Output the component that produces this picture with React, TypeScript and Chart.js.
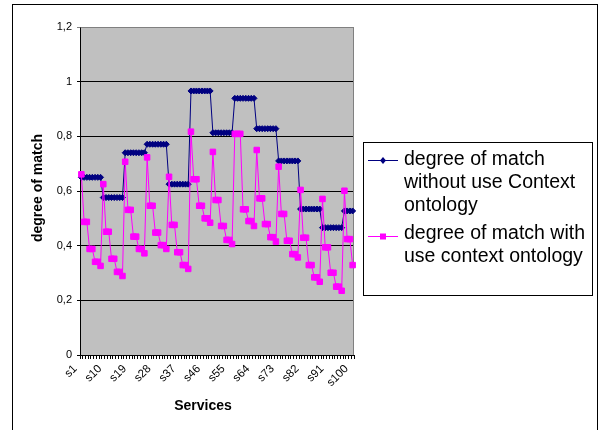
import React, { useEffect, useRef } from "react";
import { Chart, registerables } from "chart.js";

Chart.register(...registerables);

// ---------- data ----------
const categories: string[] = Array.from({ length: 100 }, (_, i) => `s${i + 1}`);

const withoutContext: number[] = [
  0.65, 0.65, 0.65, 0.65, 0.65, 0.65, 0.65, 0.65,
  0.576, 0.576, 0.576, 0.576, 0.576, 0.576, 0.576, 0.576,
  0.74, 0.74, 0.74, 0.74, 0.74, 0.74, 0.74, 0.74,
  0.771, 0.771, 0.771, 0.771, 0.771, 0.771, 0.771, 0.771,
  0.625, 0.625, 0.625, 0.625, 0.625, 0.625, 0.625, 0.625,
  0.966, 0.966, 0.966, 0.966, 0.966, 0.966, 0.966, 0.966,
  0.813, 0.813, 0.813, 0.813, 0.813, 0.813, 0.813, 0.813,
  0.939, 0.939, 0.939, 0.939, 0.939, 0.939, 0.939, 0.939,
  0.828, 0.828, 0.828, 0.828, 0.828, 0.828, 0.828, 0.828,
  0.71, 0.71, 0.71, 0.71, 0.71, 0.71, 0.71, 0.71,
  0.534, 0.534, 0.534, 0.534, 0.534, 0.534, 0.534, 0.534,
  0.466, 0.466, 0.466, 0.466, 0.466, 0.466, 0.466, 0.466,
  0.527, 0.527, 0.527, 0.527,
];

const withContext: number[] = [
  0.661, 0.487, 0.487, 0.388, 0.388, 0.341, 0.341, 0.326,
  0.625, 0.451, 0.451, 0.352, 0.352, 0.304, 0.304, 0.289,
  0.707, 0.531, 0.531, 0.433, 0.433, 0.388, 0.388, 0.372,
  0.723, 0.546, 0.546, 0.448, 0.448, 0.402, 0.402, 0.388,
  0.652, 0.476, 0.476, 0.376, 0.376, 0.329, 0.329, 0.315,
  0.817, 0.643, 0.643, 0.546, 0.546, 0.5, 0.5, 0.484,
  0.743, 0.567, 0.567, 0.472, 0.472, 0.421, 0.421, 0.406,
  0.809, 0.809, 0.809, 0.533, 0.533, 0.49, 0.49, 0.472,
  0.75, 0.573, 0.573, 0.479, 0.479, 0.431, 0.431, 0.415,
  0.689, 0.516, 0.516, 0.418, 0.418, 0.369, 0.369, 0.357,
  0.604, 0.429, 0.429, 0.329, 0.329, 0.284, 0.284, 0.268,
  0.571, 0.394, 0.394, 0.301, 0.301, 0.25, 0.25, 0.235,
  0.601, 0.424, 0.424, 0.329,
];

const legendLabels: string[][] = [
  ["degree of match", "without use Context", "ontology"],
  ["degree of match with", "use context ontology"],
];
const xAxisTitle = "Services";
const yAxisTitle = "degree of match";
const labelEvery = 9;
const yMin = 0;
const yMax = 1.2;
const yStep = 0.2;

// ---------- styles ----------
const FONT = '"Liberation Sans", Arial, sans-serif';
const BLUE = "#000080";
const PINK = "#FF00FF";
const PLOT_BG = "#C0C0C0";

const decorPlugin = {
  id: "excelDecor",
  beforeDraw(chart: any) {
    const { ctx, chartArea: a } = chart;
    ctx.save();
    ctx.fillStyle = "#ffffff";
    ctx.fillRect(0, 0, chart.width, chart.height);
    ctx.fillStyle = PLOT_BG;
    ctx.fillRect(a.left, a.top, a.right - a.left, a.bottom - a.top);
    // outer border
    ctx.strokeStyle = "#000000";
    ctx.lineWidth = 1;
    ctx.strokeRect(12.5, 4.5, 585, 460);
    ctx.restore();
  },
  beforeDatasetsDraw(chart: any) {
    const { ctx, chartArea: a } = chart;
    ctx.save();
    ctx.strokeStyle = "#808080";
    ctx.lineWidth = 1;
    ctx.beginPath();
    ctx.moveTo(Math.round(a.left) + 0.5, Math.round(a.top) + 0.5);
    ctx.lineTo(Math.round(a.right) - 0.5, Math.round(a.top) + 0.5);
    ctx.lineTo(Math.round(a.right) - 0.5, Math.round(a.bottom));
    ctx.stroke();
    ctx.restore();
  },
  afterDraw(chart: any) {
    const { ctx, chartArea: a } = chart;
    ctx.save();
    // axis titles
    ctx.fillStyle = "#000";
    ctx.font = `bold 14px ${FONT}`;
    ctx.textAlign = "center";
    ctx.textBaseline = "middle";
    ctx.fillText(xAxisTitle, 203, 406);
    ctx.save();
    ctx.translate(38, (a.top + a.bottom) / 2 - 3);
    ctx.rotate(-Math.PI / 2);
    ctx.fillText(yAxisTitle, 0, 0);
    ctx.restore();

    // legend box
    const bx = 363.5, by = 142.5, bw = 229, bh = 153;
    ctx.fillStyle = "#ffffff";
    ctx.fillRect(bx, by, bw, bh);
    ctx.strokeStyle = "#000";
    ctx.lineWidth = 1;
    ctx.strokeRect(bx, by, bw, bh);

    const lineH = 23;
    const textX = 404;
    const starts = [160, 234];
    const colors = [BLUE, PINK];
    ctx.font = `19.5px ${FONT}`;
    ctx.textAlign = "left";
    ctx.textBaseline = "middle";
    legendLabels.forEach((lines, i) => {
      const y0 = starts[i];
      const yl = i === 0 ? y0 : y0 + 2;
      ctx.strokeStyle = colors[i];
      ctx.fillStyle = colors[i];
      ctx.lineWidth = 1;
      ctx.beginPath();
      ctx.moveTo(368, yl + 0.5);
      ctx.lineTo(398, yl + 0.5);
      ctx.stroke();
      if (i === 0) {
        ctx.beginPath();
        ctx.moveTo(383, yl - 3);
        ctx.lineTo(386, yl + 0.5);
        ctx.lineTo(383, yl + 4);
        ctx.lineTo(380, yl + 0.5);
        ctx.closePath();
        ctx.fill();
      } else {
        ctx.fillRect(380, yl - 2.5, 6, 6);
      }
      ctx.fillStyle = "#000";
      lines.forEach((t, j) => ctx.fillText(t, textX, y0 + j * lineH));
    });
    ctx.restore();
  },
};

export default function App() {
  const canvasRef = useRef<HTMLCanvasElement | null>(null);

  useEffect(() => {
    if (!canvasRef.current) return;
    const chart = new Chart(canvasRef.current, {
      type: "line",
      data: {
        labels: categories,
        datasets: [
          {
            label: legendLabels[0].join(" "),
            data: withoutContext,
            borderColor: BLUE,
            backgroundColor: BLUE,
            borderWidth: 1,
            pointStyle: "rectRot",
            pointRadius: 3,
            pointBorderWidth: 1,
            pointBorderColor: BLUE,
            pointBackgroundColor: BLUE,
            tension: 0,
            order: 1,
          },
          {
            label: legendLabels[1].join(" "),
            data: withContext,
            borderColor: PINK,
            backgroundColor: PINK,
            borderWidth: 1,
            pointStyle: "rect",
            pointRadius: 3.9,
            pointBorderWidth: 1,
            pointBorderColor: PINK,
            pointBackgroundColor: PINK,
            tension: 0,
            order: 0,
          },
        ],
      },
      options: {
        animation: false,
        responsive: false,
        devicePixelRatio: 1,
        layout: { padding: { left: 0, top: 27, right: 246, bottom: 0 } },
        plugins: {
          legend: { display: false },
          tooltip: { enabled: false },
          title: { display: false },
        },
        scales: {
          x: {
            type: "category",
            offset: true,
            grid: {
              display: true,
              offset: true,
              drawOnChartArea: false,
              drawTicks: true,
              tickLength: 4,
              color: "#000",
              lineWidth: 1,
            },
            border: { display: true, color: "#000", width: 1 },
            ticks: {
              autoSkip: false,
              maxRotation: 45,
              minRotation: 45,
              padding: 3,
              labelOffset: -6,
              color: "#000",
              font: { family: FONT, size: 11.5 },
              callback: (_v: any, i: number) => (i % labelEvery === 0 ? categories[i] : ""),
            },
            afterFit: (s: any) => {
              s.height = 75;
            },
          },
          y: {
            min: yMin,
            max: yMax,
            grid: {
              color: (c: any) =>
                c.tick && Math.abs(c.tick.value - yMax) < 1e-6 ? "#808080" : "#000",
              tickLength: 3,
              lineWidth: 1,
            },
            border: { display: true, color: "#000", width: 1 },
            ticks: {
              stepSize: yStep,
              padding: 5,
              color: "#000",
              font: { family: FONT, size: 11 },
              callback: (v: any) => String(Math.round(Number(v) * 10) / 10).replace(".", ","),
            },
            afterFit: (s: any) => {
              s.width = 80;
            },
          },
        },
      },
      plugins: [decorPlugin],
    });
    return () => chart.destroy();
  }, []);

  return (
    <div style={{ position: "absolute", left: 0, top: 0, width: 600, height: 430 }}>
      <canvas ref={canvasRef} width={600} height={430} style={{ display: "block" }} />
    </div>
  );
}
